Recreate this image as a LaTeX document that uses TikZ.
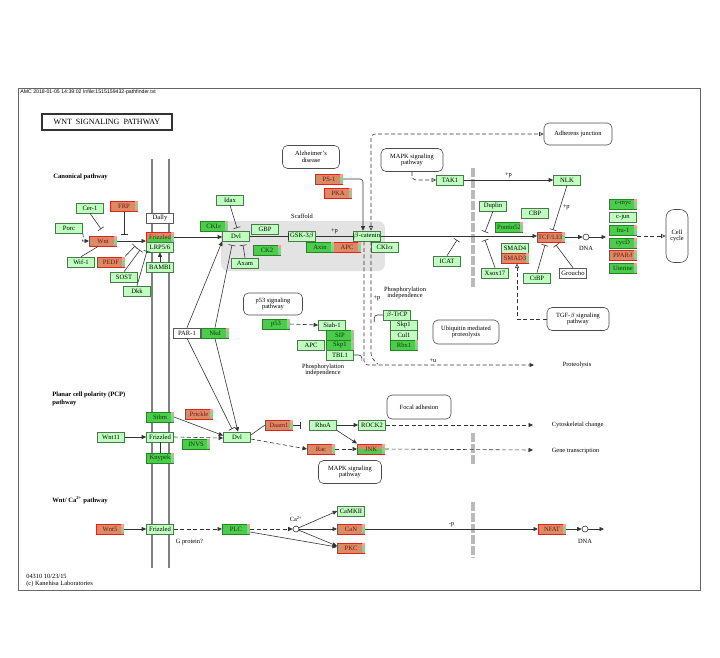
\documentclass[tikz,border=0pt]{standalone}
\usepackage{fontspec}
\setmainfont{Liberation Serif}
\newfontfamily\hdrfont{Liberation Sans}
\usetikzlibrary{arrows.meta}

\definecolor{lgfill}{HTML}{BFFFBF}
\definecolor{lgline}{HTML}{4A7A4A}
\definecolor{dgfill}{HTML}{4CCB4C}
\definecolor{dgline}{HTML}{1E8A1E}
\definecolor{dgtext}{HTML}{0A3A0A}
\definecolor{rdfill}{HTML}{D98B66}
\definecolor{rdline}{HTML}{E8201A}
\definecolor{rdtext}{HTML}{7A1010}
\definecolor{tagA}{HTML}{F4A0A0}
\definecolor{tagB}{HTML}{8CD08C}
\definecolor{tagC}{HTML}{B0B0B0}
\definecolor{linec}{HTML}{333333}

\newcommand\genefont{\fontsize{6.6}{7}\selectfont}
\newcommand\pwfont{\fontsize{6.4}{6.6}\selectfont}
\newcommand\headfont{\bfseries\fontsize{6.6}{7.4}\selectfont}
% expression marks at the right end of a box
\newcommand\gtag[1]{%
  \fill[tagA] ([xshift=-3.5pt,yshift=-0.5pt]#1.north east) rectangle ([xshift=-0.5pt,yshift=-3.5pt]#1.north east);
  \fill[tagB] ([xshift=-3.5pt,yshift=-3.5pt]#1.north east) rectangle ([xshift=-0.5pt,yshift=3pt]#1.south east);
  \fill[tagC] ([xshift=-3.5pt,yshift=3pt]#1.south east) rectangle ([xshift=-0.5pt,yshift=0.5pt]#1.south east);}

\tikzset{
  gene/.style={draw=lgline, fill=lgfill, line width=0.6pt, minimum width=27pt, minimum height=10pt, inner sep=0pt, font=\genefont},
  upg/.style={gene, draw=dgline, fill=dgfill, line width=1pt, text=dgtext},
  dng/.style={gene, draw=rdline, fill=rdfill, line width=1pt, text=rdtext},
  nog/.style={gene, draw=black!65, fill=white},
  pwbox/.style={draw=black!70, fill=white, rounded corners=5pt, align=center, font=\pwfont, inner sep=1pt, line width=0.6pt},
  lbl/.style={font=\pwfont, inner sep=0.5pt, align=center},
  hd/.style={font=\headfont, inner sep=0pt, align=left},
  act/.style={-{Triangle[length=4.5pt,width=4pt]}},
  opn/.style={-{Triangle[open,length=4.5pt,width=4pt]}},
  inh/.style={-{Bar[width=7pt]}},
  ind/.style={dash pattern=on 4pt off 2.5pt},
  memb/.style={draw=gray, line width=2.8pt},
  gbar/.style={draw=gray!55, line width=4.5pt, dash pattern=on 9pt off 2pt},
}

\begin{document}
\begin{tikzpicture}[x=1pt, y=-1pt, line width=0.6pt, draw=linec]

\useasboundingbox (0,0) rectangle (720,657);
\draw[black!60, line width=0.5pt] (18,88) rectangle (700,590);
\node[anchor=west, font=\hdrfont\fontsize{5.2}{5.5}\selectfont, inner sep=0pt] (hdr) at (20,92.5) {AMC 2018-01-05 14:39:02 Infile:1515159432-pathfinder.txt};
\node[draw, line width=1.3pt, minimum width=130pt, minimum height=16pt, font=\fontsize{8}{9}\selectfont] (title) at (107,122) {WNT~ SIGNALING~ PATHWAY};

% membrane and nucleus
\draw[memb] (152,159) -- (152,568);
\draw[memb] (169,159) -- (169,568);
\draw[gbar] (473,168) -- (473,287);
\draw[gbar] (473,433) -- (473,465);
\draw[gbar] (473,502) -- (473,558);
\fill[gray!22, rounded corners=7pt] (221,221) rectangle (385,271);
\node[lbl] (scaf) at (302,216) {Scaffold};

\node[hd, anchor=west] (canon) at (53,177) {Canonical pathway};
\node[hd, anchor=north west] (pcp) at (52,392) {Planar cell polarity (PCP)\\pathway};
\node[hd, anchor=west] (capw) at (52,500) {Wnt/ Ca\textsuperscript{2+} pathway};
\node[anchor=north west, align=left, font=\fontsize{6.4}{7}\selectfont, inner sep=0pt] (foot) at (26,574) {04310 10/23/15\\(c) Kanehisa Laboratories};

% pathway maps
\node[pwbox, minimum width=57pt, minimum height=23pt] (alz) at (311,157) {Alzheimer's\\disease};
\node[pwbox, minimum width=62pt, minimum height=23pt] (mapka) at (412,160) {MAPK signaling\\pathway};
\node[pwbox, minimum width=68pt, minimum height=22pt] (adh) at (578,134) {Adherens junction};
\node[pwbox, rounded corners=8pt, minimum width=22pt, minimum height=53pt] (cellc) at (677,236) {Cell\\cycle};
\node[pwbox, minimum width=59pt, minimum height=22pt] (p53pw) at (273,304) {p53 signaling\\pathway};
\node[pwbox, minimum width=66pt, minimum height=24pt] (ubq) at (466,332) {Ubiquitin mediated\\proteolysis};
\node[pwbox, minimum width=62pt, minimum height=23pt] (tgf) at (578,319) {TGF-$\beta$ signaling\\pathway};
\node[pwbox, minimum width=64pt, minimum height=24pt] (focal) at (419,407) {Focal adhesion};
\node[pwbox, minimum width=63pt, minimum height=23pt] (mapkb) at (350,472) {MAPK signaling\\pathway};

% canonical pathway
\node[gene] (cer) at (90,208) {Cer-1};
\node[dng] (frp) at (124,206) {FRP};
\node[gene] (porc) at (69,228) {Porc};
\node[dng] (wnt) at (103,241) {Wnt};
\node[gene] (wif) at (81,262) {Wif-1};
\node[dng] (pedf) at (111,262) {PEDF};
\node[nog] (dally) at (160,218) {Dally};
\node[dng] (fzd) at (160,237) {};
\node[gene] (lrp) at (160,247) {LRP5/6};
\node[gene] (bambi) at (160,267) {BAMBI};
\node[gene] (sost) at (124,277) {SOST};
\node[gene] (dkk) at (137,291) {Dkk};
\node[gene] (idax) at (230,200) {Idax};
\node[upg] (ckie) at (214,226) {CKI$\varepsilon$};
\node[gene] (dvl) at (236,236) {Dvl};
\node[gene] (gbp) at (265,229) {GBP};
\node[upg] (ck2) at (267,250) {CK2};
\node[gene] (axam) at (245,263) {Axam};
\node[gene] (gsk) at (302,236) {GSK-3$\beta$};
\node[upg] (axin) at (320,247) {Axin};
\node[dng] (apc) at (347,247) {APC};
\node[gene] (bcat) at (367,236) {$\beta$-catenin};
\node[gene] (ckia) at (385,247) {CKI$\alpha$};
\node[dng] (psa) at (329,179) {PS-1};
\node[dng] (pka) at (338,193) {PKA};
\node[gene] (tak) at (450,180) {TAK1};
\node[gene] (nlk) at (567,180) {NLK};
\node[gene] (duplin) at (493,206) {Duplin};
\node[gene] (cbpa) at (535,213) {CBP};
\node[upg] (pontin) at (509,227) {Pontin52};
\node[dng] (tcf) at (551,237) {TCF/LEF};
\node[gene] (smadf) at (515,248) {SMAD4};
\node[dng] (smadt) at (515,258) {SMAD3};
\node[gene] (icat) at (447,261) {ICAT};
\node[gene] (xsox) at (495,273) {Xsox17};
\node[gene] (ctbp) at (537,278) {CtBP};
\node[nog] (groucho) at (573,273) {Groucho};
\node[upg] (cmyc) at (623,204) {c-myc};
\node[gene] (cjun) at (623,217) {c-jun};
\node[upg] (fra) at (623,230) {fra-1};
\node[upg] (cycd) at (623,243) {cycD};
\node[dng] (ppar) at (623,255) {PPAR$\delta$};
\node[upg] (uter) at (623,268) {Uterine};
\node[circle, draw, fill=white, minimum size=6pt, inner sep=0pt] (dnaa) at (586,237) {};
\node[lbl] (dnaat) at (586,248) {DNA};
\coordinate (tgta) at (606,237);

\node[upg] (p53) at (276,324) {p53};
\node[gene] (siah) at (332,325) {Siah-1};
\node[upg] (sip) at (340,335) {SIP};
\node[gene] (apcb) at (311,345) {APC};
\node[upg] (skpb) at (340,345) {Skp1};
\node[gene] (tbl) at (340,355) {TBL1};
\node[lbl] (phia) at (323,370) {Phosphorylation\\independence};
\node[gene] (btrcp) at (397,315) {$\beta$-TrCP};
\node[gene] (skpa) at (404,325) {Skp1};
\node[gene] (cul) at (404,335) {Cul1};
\node[upg] (rbx) at (404,345) {Rbx1};
\node[lbl] (phib) at (405,293) {Phosphorylation\\independence};
\node[lbl] (pp) at (377,298) {+p};
\node[lbl] (uu) at (433,361) {+u};
\node[lbl, anchor=west] (prot) at (562,365) {Proteolysis};
\node[nog] (par) at (187,333) {PAR-1};
\node[upg] (nkd) at (215,333) {Nkd};

% PCP pathway
\node[upg] (stbm) at (160,417) {Stbm};
\node[dng] (prickle) at (199,414) {Prickle};
\node[gene] (wnte) at (111,437) {Wnt11};
\node[gene] (fzdb) at (160,437) {Frizzled};
\node[upg] (invs) at (196,444) {INVS};
\node[upg] (knypek) at (160,458) {Knypek};
\node[gene] (dvlb) at (237,437) {Dvl};
\node[dng] (daam) at (279,425) {Daam1};
\node[gene] (rhoa) at (323,425) {RhoA};
\node[gene] (rock) at (372,425) {ROCK2};
\node[dng] (rac) at (321,449) {Rac};
\node[dng] (jnk) at (371,449) {};
\node[lbl, anchor=west] (cyto) at (551,425) {Cytoskeletal change};
\node[lbl, anchor=west] (genet) at (551,451) {Gene transcription};

% Wnt/Ca2+ pathway
\node[dng] (wntf) at (110,529) {Wnt5};
\node[gene] (fzdc) at (160,529) {Frizzled};
\node[upg] (plc) at (236,529) {PLC};
\node[lbl, anchor=west] (gprot) at (175,542) {G protein?};
\node[circle, draw, fill=white, minimum size=6pt, inner sep=0pt] (ca) at (296,529) {};
\node[lbl] (cat) at (296,519) {Ca\textsuperscript{2+}};
\node[gene] (camk) at (351,511) {CaMKII};
\node[dng] (can) at (351,529) {CaN};
\node[dng] (pkc) at (351,548) {PKC};
\node[dng] (nfat) at (552,529) {NFAT};
\node[circle, draw, fill=white, minimum size=6pt, inner sep=0pt] (dnab) at (585,529) {};
\node[lbl] (dnabt) at (585,541) {DNA};
\coordinate (tgtb) at (604,529);

% boxes that are half up, half down
\fill[dgfill] ([xshift=0.5pt]fzd.west) rectangle ([xshift=-0.5pt,yshift=0.5pt]fzd.south east);
\fill[dgfill] ([xshift=0.5pt]jnk.west) rectangle ([xshift=-0.5pt,yshift=0.5pt]jnk.south east);
\node[font=\genefont, text=rdtext, inner sep=0pt] (fzdlbl) at (fzd) {Frizzled};
\node[font=\genefont, text=rdtext, inner sep=0pt] (jnklbl) at (jnk) {JNK};
\foreach \g in {frp,wnt,pedf,fzd,ckie,ck2,axin,apc,psa,pka,pontin,tcf,smadt,cmyc,fra,cycd,ppar,uter,
  p53,sip,skpb,rbx,nkd,stbm,prickle,invs,knypek,daam,rac,jnk,wntf,plc,can,pkc,nfat}
  {\gtag{\g}}

% inhibition ends
\coordinate (cerbar) at (101,229);
\coordinate (frpbar) at (124,235);
\coordinate (pedfbar) at (135,246);
\coordinate (sostbar) at (140,250);
\coordinate (dkkbar) at (147,251);
\coordinate (idaxbar) at (237,228);
\coordinate (nkdbar) at (232,245);
\coordinate (axambar) at (243,245);
\coordinate (dupbar) at (485,232);
\coordinate (xsoxbar) at (485,240);
\coordinate (icatbar) at (457,240);
\coordinate (nlkbar) at (553,230);
\coordinate (ctbpbar) at (545,245);
\coordinate (grobar) at (556,245);
\coordinate (parbar) at (232,429);
\coordinate (daambar) at (301,425);

\draw[ind, act] (porc.south east) .. controls +(2,9) and +(-10,0) .. (wnt.west);
\draw[inh] (cer.south) -- (cerbar);
\draw[inh] (frp.south) -- (frpbar);
\draw[act] (wnt.east) -- (wnt.east -| fzd.west);
\draw (wif.north) -- ([xshift=-5pt]wnt.south);
\draw[inh] (pedf.north east) -- (pedfbar);
\draw[inh] (sost.north) -- (sostbar);
\draw[inh] (dkk.north) -- (dkkbar);
\draw[act] (bambi.north) -- (lrp.south);
\draw[act] (fzd.east) -- (fzd.east -| dvl.west);
\draw[inh] (idax.south) -- (idaxbar);
\draw[inh] (dvl.east) -- (gsk.west);
\draw[inh] (gsk.east) -- node[lbl, above=1pt] {+p} (bcat.west);
\draw[act, rounded corners=3pt] (psa.east) -| ([xshift=-4pt]bcat.north);
\draw[ind, {Triangle[open,length=4.5pt,width=4pt]}-{Triangle[open,length=4.5pt,width=4pt]}, rounded corners=4pt] ([xshift=4pt]bcat.north) |- (adh.west);
\draw[ind, act, rounded corners=4pt] ([xshift=-3pt]bcat.south) |- ([xshift=-28pt]prot.west);
\draw[ind, rounded corners=4pt] ([xshift=4pt]bcat.south) -- ++(0,116) -- ++(7,7);
\draw[rounded corners=3pt] (tbl.east) -- ++(8,0) -- ++(0,6);
\draw[rounded corners=3pt] (btrcp.west) -- ++(-9,0) -- ++(0,7);
\draw[act] (bcat.east) -- (bcat.east -| tcf.west);
\draw[inh] (duplin.south) -- (dupbar);
\draw[inh] (xsox.north) -- (xsoxbar);
\draw[inh] (icat.north) -- (icatbar);
\draw[act] (tak.east) -- node[lbl, above=1pt] {+p} (nlk.west);
\draw[ind, opn, rounded corners=4pt] (mapka.south) |- (tak.west);
\draw[inh] (nlk.south) -- node[lbl, right=2pt] {+p} (nlkbar);
\draw[inh] (ctbp.north) -- (ctbpbar);
\draw[inh] (groucho.north) -- (grobar);
\draw[ind, opn] (tgf.west) -| ([xshift=2pt]smadt.south);
\draw[act] (tcf.east) -- (dnaa);
\draw[act] (dnaa) -- (tgta);
\draw[ind, opn] (cellc.west -| cycd.east) -- (cellc.west);
\draw[act] (par.north) -- (dvl.south west);
\draw[inh] (nkd.north) -- (nkdbar);
\draw[inh] (axam.north) -- (axambar);
\draw[ind, act] (p53.east) -- (siah.west);

\draw[inh] (par.south) -- (parbar);
\draw[act] (nkd.south) -- ([xshift=1pt]dvlb.north);
\draw[act] (stbm.east) -- ([yshift=1.5pt]dvlb.west);
\draw[act] (wnte.east) -- (fzdb.west);
\draw[ind, act] (fzdb.east) -- ([yshift=-1pt]dvlb.west);
\draw (fzdb.south) -- (knypek.north);
\draw ([yshift=2pt]dvlb.east) -- (daam.west);
\draw[inh] (daam.east) -- (daambar);
\draw[act] (rhoa.east) -- (rock.west);
\draw[act] (rhoa.south east) -- (jnk.north west);
\draw[ind, act] ([yshift=-2pt]dvlb.east) -- (rac.west);
\draw[ind, act] (rac.east) -- (jnk.west);
\draw[ind, act] (rock.east) -- ([xshift=-18pt]cyto.west);
\draw[ind, act] (jnk.east) -- ([xshift=-18pt,yshift=1pt]genet.west);

\draw[act] (wntf.east) -- (fzdc.west);
\draw[ind, act] (fzdc.east) -- (plc.west);
\draw[ind, act] (plc.east) -- (ca);
\draw[act] ([yshift=-3pt]plc.east) -- ([yshift=1pt]pkc.west);
\draw[act] (ca) -- (camk.west);
\draw[act] (ca) -- (can.west);
\draw[act] (ca) -- ([yshift=2pt]pkc.west);
\draw[act] (can.east) -- node[lbl, above=1pt] {-p} (nfat.west);
\draw[act] (nfat.east) -- (dnab);
\draw[act] (dnab) -- (tgtb);

\end{tikzpicture}
\end{document}
